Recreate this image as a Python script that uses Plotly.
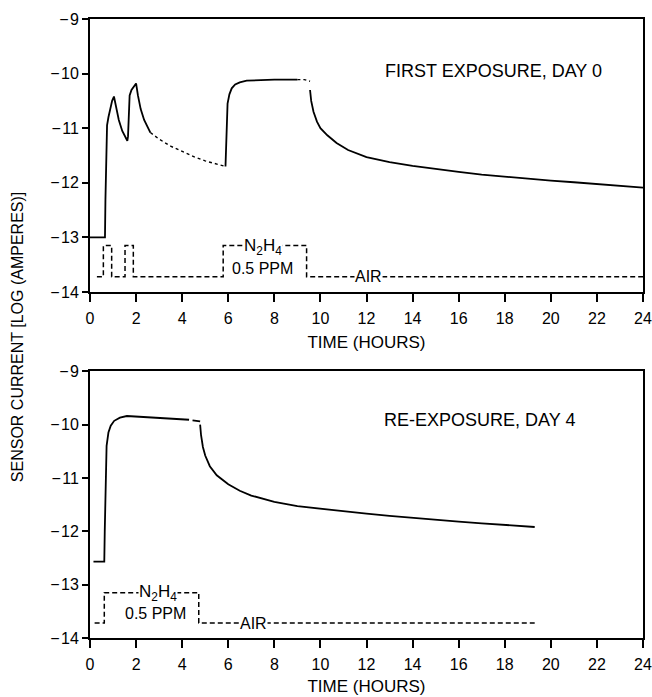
import plotly.graph_objects as go

# ---------------- DATA ----------------
# Top panel: first exposure, day 0 (log amperes vs hours)
top_a_t = [0, 0.65, 0.67, 0.70, 0.74, 0.80, 0.88, 0.96, 1.04, 1.12, 1.25, 1.40, 1.55, 1.62,
           1.65, 1.68, 1.72, 1.80, 1.90, 2.00, 2.08, 2.20, 2.35, 2.50, 2.62]
top_a_y = [-13.0, -13.0, -12.3, -11.4, -10.95, -10.8, -10.62, -10.5, -10.42, -10.6, -10.85,
           -11.05, -11.18, -11.23, -11.15, -10.7, -10.4, -10.3, -10.24, -10.18, -10.4, -10.65,
           -10.85, -10.98, -11.08]
top_dot1_t = [2.62, 3.0, 3.5, 4.0, 4.5, 5.0, 5.5, 5.88]
top_dot1_y = [-11.08, -11.2, -11.33, -11.43, -11.52, -11.6, -11.66, -11.7]
top_b_t = [5.88, 5.90, 5.93, 5.97, 6.05, 6.15, 6.30, 6.50, 6.80, 7.20, 8.00, 9.00]
top_b_y = [-11.7, -11.3, -10.85, -10.55, -10.38, -10.27, -10.2, -10.16, -10.13, -10.12, -10.11, -10.11]
top_dot2_t = [9.00, 9.30, 9.55]
top_dot2_y = [-10.11, -10.11, -10.14]
top_c_t = [9.55, 9.60, 9.70, 9.85, 10.0, 10.3, 10.7, 11.2, 12.0, 13.0, 14.0, 15.0, 16.0,
           17.0, 18.0, 19.0, 20.0, 21.0, 22.0, 23.0, 24.0]
top_c_y = [-10.3, -10.5, -10.7, -10.88, -11.0, -11.13, -11.27, -11.4, -11.53, -11.62, -11.69,
           -11.75, -11.8, -11.85, -11.89, -11.93, -11.96, -11.99, -12.02, -12.05, -12.09]

# Gas schedule (0 = air, 1 = N2H4 0.5 ppm), drawn on the same axes as a step trace
gas_low, gas_high = -13.72, -13.15
top_gas_t = [0.30, 0.58, 0.94, 1.52, 1.88, 5.78, 9.40, 24.0]
top_gas_state = [0, 1, 0, 1, 0, 1, 0, 0]

# Bottom panel: re-exposure, day 4
bot_a_t = [0.15, 0.62, 0.64, 0.67, 0.72, 0.80, 0.90, 1.05, 1.30, 1.60, 2.00, 2.80, 3.50, 4.30]
bot_a_y = [-12.57, -12.57, -12.0, -11.0, -10.4, -10.15, -10.02, -9.93, -9.87, -9.84, -9.85,
           -9.87, -9.89, -9.91]
bot_b_t = [4.45, 4.78]
bot_b_y = [-9.92, -9.94]
bot_c_t = [4.78, 4.82, 4.90, 5.0, 5.2, 5.5, 6.0, 6.5, 7.0, 8.0, 9.0, 10.0, 11.0, 12.0, 13.0,
           14.0, 15.0, 16.0, 17.0, 18.0, 19.3]
bot_c_y = [-10.0, -10.2, -10.42, -10.58, -10.78, -10.95, -11.12, -11.24, -11.33, -11.45,
           -11.53, -11.58, -11.63, -11.67, -11.71, -11.75, -11.78, -11.82, -11.85, -11.88, -11.92]
bot_gas_t = [0.20, 0.62, 4.72, 19.3]
bot_gas_state = [0, 1, 0, 0]

x_ticks = list(range(0, 25, 2))
y_ticks = [-14, -13, -12, -11, -10, -9]
y_ticktext = ["\u2212\u200a" + str(abs(v)) for v in y_ticks]

# ---------------- FIGURE ----------------
FONT = "Liberation Sans, Arial, sans-serif"
fig = go.Figure()

def line(t, y, ax, dash="solid", width=1.8):
    fig.add_trace(go.Scatter(x=t, y=y, mode="lines", xaxis=ax[0], yaxis=ax[1],
                             line=dict(color="black", width=width, dash=dash),
                             showlegend=False, hoverinfo="skip"))

def gas(t, s, ax):
    y = [gas_high if v else gas_low for v in s]
    fig.add_trace(go.Scatter(x=t, y=y, mode="lines", xaxis=ax[0], yaxis=ax[1],
                             line=dict(color="black", width=1.5, dash="5px,3px", shape="hv"),
                             showlegend=False, hoverinfo="skip"))

TOP = ("x", "y")
BOT = ("x2", "y2")
line(top_a_t, top_a_y, TOP)
line(top_dot1_t, top_dot1_y, TOP, dash="dot", width=1.4)
line(top_b_t, top_b_y, TOP)
line(top_dot2_t, top_dot2_y, TOP, dash="dot", width=1.4)
line(top_c_t, top_c_y, TOP)
gas(top_gas_t, top_gas_state, TOP)

line(bot_a_t, bot_a_y, BOT)
line(bot_b_t, bot_b_y, BOT)
line(bot_c_t, bot_c_y, BOT)
gas(bot_gas_t, bot_gas_state, BOT)

tickfont = dict(family=FONT, size=16, color="black")
axis_common = dict(showline=True, linecolor="black", linewidth=2, mirror=True,
                   ticks="outside", tickwidth=2, tickcolor="black", automargin=False,
                   showgrid=False, zeroline=False, tickfont=tickfont)
title_font = dict(family=FONT, size=17, color="black")

fig.update_layout(
    width=652, height=697,
    margin=dict(l=90, r=9, t=19, b=59),
    paper_bgcolor="white", plot_bgcolor="white",
    font=dict(family=FONT, color="black"),
    xaxis=dict(domain=[0, 1], range=[0, 24], tickvals=x_ticks, anchor="y", ticklen=8,
               ticklabelstandoff=3,
               title=dict(text="TIME (HOURS)", font=title_font, standoff=10), **axis_common),
    yaxis=dict(domain=[0.559, 1], range=[-14, -9], tickvals=y_ticks, ticktext=y_ticktext,
               anchor="x", ticklen=6, **axis_common),
    xaxis2=dict(domain=[0, 1], range=[0, 24], tickvals=x_ticks, anchor="y2", ticklen=8,
                ticklabelstandoff=3,
                title=dict(text="TIME (HOURS)", font=title_font, standoff=8), **axis_common),
    yaxis2=dict(domain=[0, 0.431], range=[-14, -9], tickvals=y_ticks, ticktext=y_ticktext,
                anchor="x2", ticklen=6, **axis_common),
)

ann_font = dict(family=FONT, size=18, color="black")
small_font = dict(family=FONT, size=16, color="black")
n2h4_font = dict(family=FONT, size=17, color="black")
annotations = [
    dict(text="FIRST EXPOSURE, DAY 0", x=17.5, y=-9.95, xref="x", yref="y", showarrow=False, font=ann_font),
    dict(text="RE-EXPOSURE, DAY 4", x=16.9, y=-9.92, xref="x2", yref="y2", showarrow=False, font=ann_font),
    dict(text="N<sub>2</sub>H<sub>4</sub>", x=7.5, y=-13.18, xref="x", yref="y", showarrow=False,
         font=n2h4_font, bgcolor="white", borderpad=0),
    dict(text="0.5 PPM", x=7.5, y=-13.57, xref="x", yref="y", showarrow=False, font=small_font),
    dict(text="AIR", x=12.1, y=-13.72, xref="x", yref="y", showarrow=False, font=small_font,
         bgcolor="white", borderpad=0),
    dict(text="N<sub>2</sub>H<sub>4</sub>", x=2.95, y=-13.15, xref="x2", yref="y2", showarrow=False,
         font=n2h4_font, bgcolor="white", borderpad=0),
    dict(text="0.5 PPM", x=2.86, y=-13.55, xref="x2", yref="y2", showarrow=False, font=small_font),
    dict(text="AIR", x=7.1, y=-13.72, xref="x2", yref="y2", showarrow=False, font=small_font,
         bgcolor="white", borderpad=0),
    dict(text="SENSOR CURRENT [LOG (AMPERES)]", x=-0.132, y=0.486, xref="paper", yref="paper",
         textangle=-90, showarrow=False, xanchor="center", yanchor="middle",
         font=dict(family=FONT, size=16, color="black")),
]
fig.update_layout(annotations=annotations)

fig.write_html("out.html")
